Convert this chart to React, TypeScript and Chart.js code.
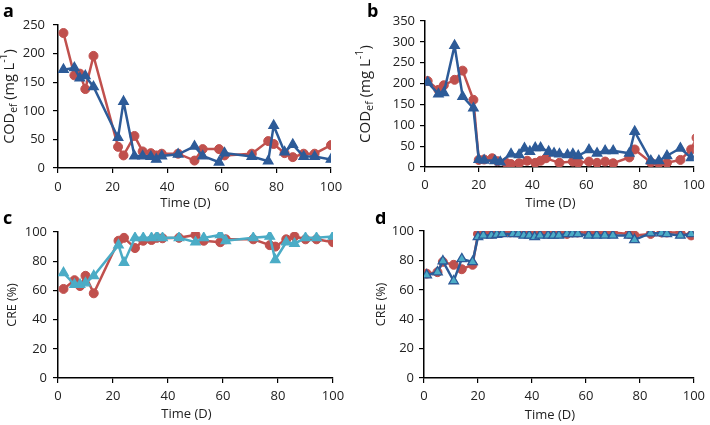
import React, { useEffect, useRef } from 'react';
import { Chart, registerables } from 'chart.js';

Chart.register(...registerables);

const RED = '#C0504D';
const BLUE = '#2D5B98';
const AQUA = '#4BACC6';
const TXT = '#222222';
const FONT = '"Open Sans", "Noto Sans", sans-serif';

// ---- Panel a: COD effluent ----
const daysA = [2, 6, 8, 10, 13, 22, 24, 28, 31, 34, 36, 38, 44, 50, 53, 59, 61, 71, 77, 79, 83, 86, 90, 94, 100];
const codRedA = [236, 162, 165, 138, 196, 37, 22, 56, 29, 26, 22, 25, 25, 13, 33, 33, 22, 25, 47, 42, 26, 19, 25, 25, 40];
const codBlueA = [172, 175, 157, 161, 142, 53, 116, 21, 21, 20, 15, 21, 24, 38, 21, 10, 26, 20, 12, 74, 28, 41, 20, 20, 15];

// ---- Panel b: COD effluent ----
const daysRedB = [1, 5, 7, 11, 14, 18, 20, 22, 25, 27, 30, 32, 35, 38, 41, 43, 45, 50, 55, 57, 61, 64, 67, 70, 76, 78, 84, 87, 90, 95, 99, 101];
const codRedB = [206, 185, 196, 209, 231, 161, 17, 18, 21, 14, 11, 7, 9, 15, 10, 15, 21, 10, 13, 10, 13, 10, 13, 9, 23, 42, 11, 9, 10, 17, 42, 70];
const daysBlueB = [1, 5, 7, 11, 14, 18, 20, 22, 26, 28, 32, 35, 37, 39, 41, 43, 46, 48, 50, 53, 55, 57, 61, 64, 67, 70, 76, 78, 84, 87, 90, 95, 99];
const codBlueB = [203, 175, 178, 291, 169, 141, 18, 16, 15, 12, 31, 29, 45, 37, 46, 46, 37, 33, 31, 29, 31, 27, 41, 33, 39, 39, 33, 85, 15, 15, 27, 45, 22];

// ---- Panel c: CRE ----
const daysC = [2, 6, 8, 10, 13, 22, 24, 28, 31, 34, 36, 38, 44, 50, 53, 59, 61, 71, 77, 79, 83, 86, 90, 94, 100];
const creRedC = [61, 67, 63, 70, 58, 94, 96, 89, 94, 94.5, 96, 95.7, 96, 98, 94, 93, 95, 95, 91, 90, 95, 97, 95, 95, 93];
const creBlueC = [72, 64, 64, 65, 70, 91, 79, 96, 96, 96, 97, 96, 96, 93, 96, 98, 94, 96, 97, 81, 93, 92, 96, 96, 97];

// ---- Panel d: CRE ----
const daysRedD = [1, 5, 7, 11, 14, 18, 20, 21, 22, 25, 27, 29, 32, 35, 37, 39, 41, 43, 46, 48, 50, 53, 55, 57, 61, 64, 67, 70, 76, 78, 84, 88, 90, 95, 99];
const creRedD = [71, 72, 79, 77, 74, 77, 98, 98, 99, 98, 99, 99, 99, 99, 99, 99, 99, 99, 98, 98, 99, 98, 99, 99, 99, 99, 99, 99, 98, 97, 98, 99, 99, 99, 97];
const daysBlueD = [1, 5, 7, 11, 14, 18, 20, 22, 25, 27, 29, 33, 35, 37, 39, 41, 43, 46, 48, 50, 53, 55, 57, 61, 64, 67, 70, 76, 78, 84, 88, 90, 95, 99];
const creBlueD = [70, 72, 79.5, 66, 81, 79, 96, 97, 97, 97.5, 98, 98, 98, 97, 97, 96, 97, 97, 97, 97, 98, 98, 98, 97, 97, 97, 97, 97, 94, 98.5, 98.5, 98, 97, 98];

const xTitleText = 'Time (D)';

type Part = { t: string; size: number; dy?: number };

const codTitle = (s: number): Part[] => [
  { t: 'COD', size: s },
  { t: 'ef', size: s * 0.72, dy: s * 0.28 },
  { t: ' (mg L', size: s },
  { t: '-1', size: s * 0.72, dy: -s * 0.38 },
  { t: ')', size: s },
];
const creTitle = (s: number): Part[] => [{ t: 'CRE (%)', size: s }];

const extrasPlugin = {
  id: 'extras',
  afterDraw(chart: any, _args: any, opts: any) {
    const ctx = chart.ctx as CanvasRenderingContext2D;
    const area = chart.chartArea;
    ctx.save();
    ctx.fillStyle = '#000';
    ctx.font = `bold 18px ${FONT}`;
    ctx.textBaseline = 'alphabetic';
    ctx.textAlign = 'left';
    ctx.fillText(opts.label, opts.labelX, opts.labelY);

    // x-axis title
    ctx.fillStyle = TXT;
    ctx.font = `13px ${FONT}`;
    ctx.textAlign = 'center';
    ctx.textBaseline = 'middle';
    ctx.fillText(opts.xTitle, (area.left + area.right) / 2 + opts.xTitleDx, opts.xTitleY);

    // y-axis title (with sub/superscripts)
    ctx.textAlign = 'left';
    const parts: Part[] = opts.titleParts;
    let total = 0;
    for (const p of parts) {
      ctx.font = `${p.size}px ${FONT}`;
      total += ctx.measureText(p.t).width;
    }
    const cy = (area.top + area.bottom) / 2;
    ctx.translate(opts.titleX, cy);
    ctx.rotate(-Math.PI / 2);
    let x = -total / 2;
    for (const p of parts) {
      ctx.font = `${p.size}px ${FONT}`;
      ctx.fillText(p.t, x, p.dy || 0);
      x += ctx.measureText(p.t).width;
    }
    ctx.restore();
  },
};

const pts = (xs: number[], ys: number[]) => xs.map((x, i) => ({ x, y: ys[i] }));

const circleSet = (xs: number[], ys: number[]) => ({
  data: pts(xs, ys),
  borderColor: RED,
  backgroundColor: RED,
  pointStyle: 'circle',
  pointRadius: 4.5,
  pointBorderWidth: 1,
  pointBackgroundColor: RED,
  pointBorderColor: RED,
  borderWidth: 2.5,
  tension: 0,
});

const triSet = (xs: number[], ys: number[], line: string, fill: string) => ({
  data: pts(xs, ys),
  borderColor: line,
  backgroundColor: fill,
  pointStyle: 'triangle',
  pointRadius: 5.5,
  pointBorderWidth: 1.3,
  pointBackgroundColor: fill,
  pointBorderColor: line,
  borderWidth: 2.5,
  tension: 0,
});

type PanelCfg = {
  left: number;
  top: number;
  width: number;
  height: number;
  area: { left: number; right: number; top: number; bottom: number };
  yMax: number;
  yStep: number;
  datasets: any[];
  label: string;
  labelX: number;
  labelY: number;
  titleParts: Part[];
  titleX: number;
  xTickPad: number;
  yTickPad: number;
  xTitleY: number;
};

const panels: PanelCfg[] = [
  {
    left: 0, top: 0, width: 355, height: 212,
    area: { left: 58, right: 331, top: 25, bottom: 168 },
    yMax: 250, yStep: 50,
    datasets: [triSet(daysA, codBlueA, BLUE, BLUE), circleSet(daysA, codRedA)],
    label: 'a', labelX: 3, labelY: 17,
    titleParts: codTitle(14.5), titleX: 10,
    xTickPad: 6, yTickPad: 8, xTitleY: 203,
  },
  {
    left: 355, top: 0, width: 355, height: 212,
    area: { left: 70, right: 343, top: 21, bottom: 167 },
    yMax: 350, yStep: 50,
    datasets: [triSet(daysBlueB, codBlueB, BLUE, BLUE), circleSet(daysRedB, codRedB)],
    label: 'b', labelX: 12, labelY: 17,
    titleParts: codTitle(15), titleX: 11,
    xTickPad: 5, yTickPad: 5, xTitleY: 203,
  },
  {
    left: 0, top: 212, width: 355, height: 213,
    area: { left: 58, right: 333, top: 20, bottom: 166 },
    yMax: 100, yStep: 20,
    datasets: [triSet(daysC, creBlueC, AQUA, AQUA), circleSet(daysC, creRedC)],
    label: 'c', labelX: 3, labelY: 12,
    titleParts: creTitle(12.5), titleX: 12,
    xTickPad: 5, yTickPad: 6, xTitleY: 202,
  },
  {
    left: 355, top: 212, width: 355, height: 213,
    area: { left: 69, right: 342, top: 19, bottom: 166 },
    yMax: 100, yStep: 20,
    datasets: [triSet(daysBlueD, creBlueD, BLUE, AQUA), circleSet(daysRedD, creRedD)],
    label: 'd', labelX: 20, labelY: 12,
    titleParts: creTitle(12.5), titleX: 26,
    xTickPad: 5, yTickPad: 5, xTitleY: 203,
  },
];

function Panel({ cfg }: { cfg: PanelCfg }) {
  const ref = useRef<HTMLCanvasElement | null>(null);
  useEffect(() => {
    if (!ref.current) return;
    const tickFont = { family: FONT, size: 13 };
    const grid = {
      display: true,
      drawOnChartArea: false,
      drawTicks: true,
      tickLength: 5,
      color: '#000',
      lineWidth: 1.2,
    };
    const border = { display: true, color: '#000', width: 1.5 };
    const chart = new Chart(ref.current, {
      type: 'line',
      data: { datasets: cfg.datasets },
      options: {
        animation: false,
        responsive: false,
        maintainAspectRatio: false,
        layout: {
          padding: { left: 0, right: cfg.width - cfg.area.right, top: cfg.area.top, bottom: 0 },
        },
        plugins: {
          legend: { display: false },
          tooltip: { enabled: false },
          extras: {
            label: cfg.label,
            labelX: cfg.labelX,
            labelY: cfg.labelY,
            titleParts: cfg.titleParts,
            titleX: cfg.titleX,
            xTitle: xTitleText,
            xTitleY: cfg.xTitleY,
            xTitleDx: -9,
          },
        } as any,
        scales: {
          x: {
            type: 'linear',
            min: 0,
            max: 100,
            ticks: { stepSize: 20, font: tickFont, color: TXT, padding: cfg.xTickPad },
            grid,
            border,
            title: { display: false },
            afterFit: (s: any) => {
              s.height = cfg.height - cfg.area.bottom;
            },
          },
          y: {
            type: 'linear',
            min: 0,
            max: cfg.yMax,
            ticks: { stepSize: cfg.yStep, font: tickFont, color: TXT, padding: cfg.yTickPad },
            grid,
            border,
            afterFit: (s: any) => {
              s.width = cfg.area.left;
            },
          },
        },
      } as any,
      plugins: [extrasPlugin as any],
    });
    return () => chart.destroy();
  }, [cfg]);
  return (
    <canvas
      ref={ref}
      width={cfg.width}
      height={cfg.height}
      style={{
        position: 'absolute',
        left: cfg.left,
        top: cfg.top,
        width: cfg.width,
        height: cfg.height,
      }}
    />
  );
}

export default function App() {
  return (
    <div
      style={{
        position: 'fixed',
        left: 0,
        top: 0,
        width: 710,
        height: 425,
        background: '#fff',
        overflow: 'hidden',
      }}
    >
      {panels.map((p, i) => (
        <Panel key={i} cfg={p} />
      ))}
    </div>
  );
}
